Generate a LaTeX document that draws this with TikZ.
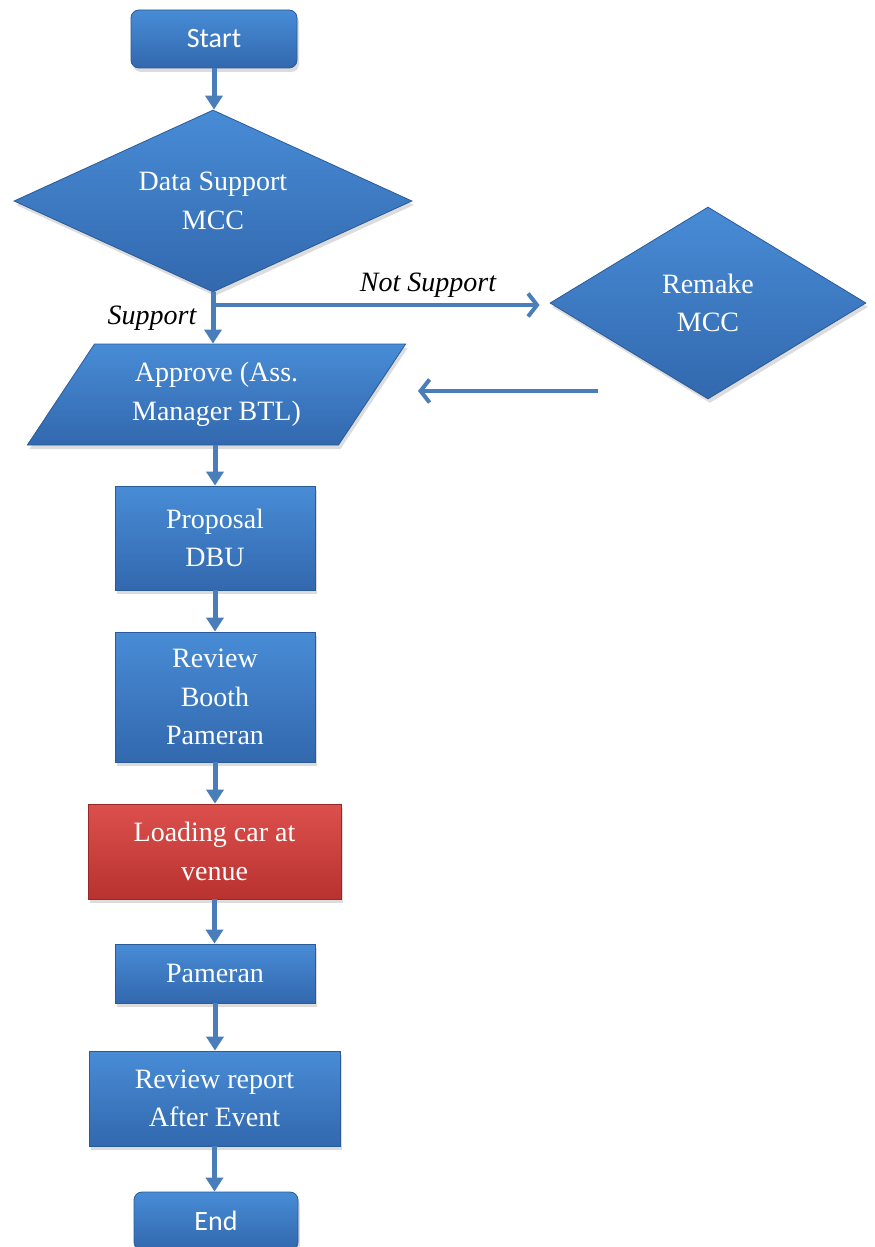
\documentclass[tikz,border=0pt]{standalone}
\usepackage{fontspec}
\setmainfont{Liberation Serif}
\newfontfamily\calib{Carlito}
\usetikzlibrary{shapes.geometric,arrows.meta,shadows}

\definecolor{bluetop}{RGB}{72,140,214}
\definecolor{bluebot}{RGB}{50,104,174}
\definecolor{blueedge}{RGB}{42,90,152}
\definecolor{redtop}{RGB}{220,80,76}
\definecolor{redbot}{RGB}{184,50,48}
\definecolor{rededge}{RGB}{150,40,38}
\definecolor{arrowc}{RGB}{74,126,187}

\tikzset{
  shp/.style={top color=bluetop, bottom color=bluebot, draw=blueedge, line width=0.8pt,
    text=white, inner sep=0pt, align=center, font=\fontsize{28}{38.5}\selectfont,
    drop shadow={opacity=0.28, shadow xshift=2pt, shadow yshift=-4pt}},
  redshp/.style={shp, top color=redtop, bottom color=redbot, draw=rededge},
  boxnode/.style={shp, rectangle},
  termnode/.style={shp, rectangle, rounded corners=8pt, font=\calib\fontsize{28}{34}\selectfont},
  decnode/.style={shp, diamond},
  ionode/.style={shp, trapezium, trapezium left angle=54, trapezium right angle=126, trapezium stretches=true},
  varr/.style={draw=arrowc, line width=5pt, -{Triangle[width=17pt,length=14pt]}},
  harr/.style={draw=arrowc, line width=4pt, -{Straight Barb[length=9pt,width=23pt]}},
  lbl/.style={font=\itshape\fontsize{28}{34}\selectfont, inner sep=0pt}
}

\begin{document}
\begin{tikzpicture}[x=1pt,y=-1pt]
\useasboundingbox (0,0) rectangle (875,1247);

\node[termnode, minimum width=166pt, minimum height=58pt] (start) at (214,39) {\raisebox{-3pt}{Start}};
\node[decnode, minimum width=398pt, minimum height=182pt, aspect=2.19] (data) at (213,201) {Data Support\\MCC};
\node[decnode, minimum width=316pt, minimum height=192pt, aspect=1.65] (remake) at (708,303) {Remake\\MCC};
\node[ionode, minimum width=379pt, minimum height=101pt] (approve) at (216.5,394.5) {Approve (Ass.\\Manager BTL)};
\node[boxnode, minimum width=200pt, minimum height=104pt] (proposal) at (215,538) {Proposal\\DBU};
\node[boxnode, minimum width=200pt, minimum height=130pt] (review) at (215,697) {Review\\Booth\\Pameran};
\node[redshp, rectangle, minimum width=253pt, minimum height=95pt] (loading) at (214.5,851.5) {Loading car at\\venue};
\node[boxnode, minimum width=200pt, minimum height=59pt] (pameran) at (215,973.5) {Pameran};
\node[boxnode, minimum width=251pt, minimum height=95pt] (report) at (214.5,1098.5) {Review report\\After Event};
\node[termnode, minimum width=164pt, minimum height=58pt] (end) at (216,1221) {End};

\node[lbl] (sup) at (152,318) {Support};
\node[lbl] (notsup) at (428,285) {Not Support};

\coordinate (br) at (213,305);
\coordinate (ret1) at (598,391);
\coordinate (ret2) at (418,391);

\draw[varr] (start.south) -- (start.south |- data.north);
\draw[varr] (data.south) -- (data.south |- approve.north);
\draw[harr, shorten >=10pt] (br) -- (br -| remake.west);
\draw[harr] (ret1) -- (ret2);
\draw[varr] (approve.south -| proposal.north) -- (proposal.north);
\draw[varr] (proposal.south) -- (review.north);
\draw[varr] (review.south) -- (review.south |- loading.north);
\draw[varr] (loading.south) -- (loading.south |- pameran.north);
\draw[varr] (pameran.south) -- (pameran.south |- report.north);
\draw[varr] (report.south) -- (report.south |- end.north);
\end{tikzpicture}
\end{document}
